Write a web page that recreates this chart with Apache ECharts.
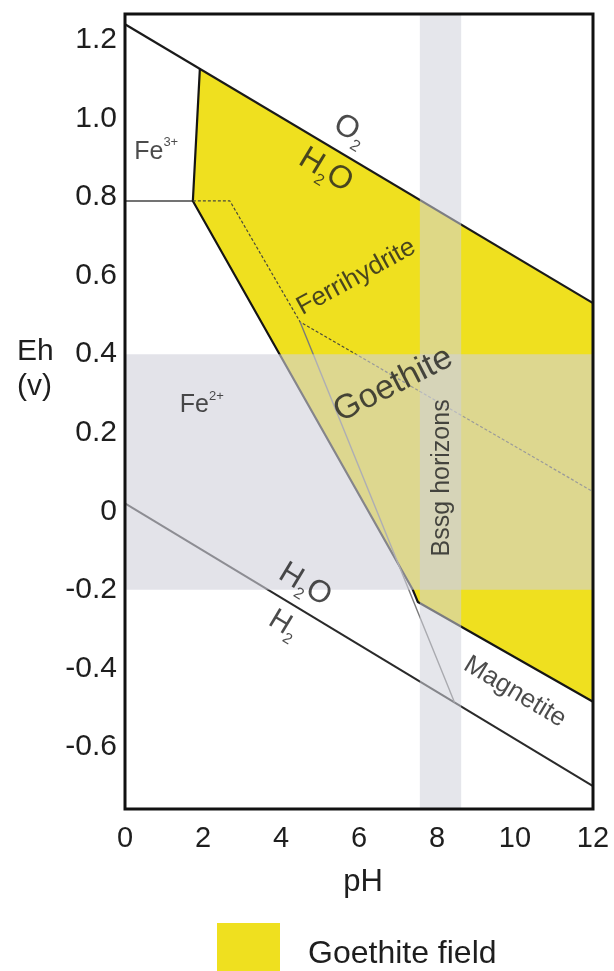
<!DOCTYPE html>
<html>
<head>
<meta charset="utf-8">
<script src="https://cdn.jsdelivr.net/npm/echarts@6/dist/echarts.min.js"></script>
<style>
  html, body { margin: 0; padding: 0; background: #fff; }
  #chart { width: 614px; height: 971px; }
</style>
</head>
<body>
<div id="chart"></div>
<script>
// Axis ticks
const phTicks = [0, 2, 4, 6, 8, 10, 12];
const ehTicks = [-0.6, -0.4, -0.2, 0, 0.2, 0.4, 0.6, 0.8, 1.0, 1.2];

// Water stability limits
const o2WaterPH = [0, 12];
const o2WaterEh = [1.24, 0.53];
const h2WaterPH = [0, 12];
const h2WaterEh = [0.02, -0.70];

// Fe3+ / Fe2+ boundary
const fe3Fe2PH = [0, 1.74];
const fe3Fe2Eh = [0.79, 0.79];

// Goethite stability boundary (left and lower edge)
const goethiteEdgePH = [1.92, 1.74, 7.38, 7.51, 12];
const goethiteEdgeEh = [1.127, 0.79, -0.20, -0.231, -0.485];

// Ferrihydrite boundary (dashed)
const ferrihydritePH = [1.74, 2.69, 4.49, 12];
const ferrihydriteEh = [0.79, 0.79, 0.482, 0.05];

// Fe2+ / magnetite boundary
const magnetitePH = [4.49, 8.45];
const magnetiteEh = [0.482, -0.487];

// Goethite field polygon
const goethiteFieldPH = [1.92, 12, 12, 7.51, 7.38, 1.74];
const goethiteFieldEh = [1.127, 0.53, -0.485, -0.231, -0.20, 0.79];

// Shaded ranges: Eh range and pH range of the Bssg horizons
const ehBand = [-0.2, 0.4];
const phBand = [7.56, 8.62];

// Text annotations
const noteTexts = ['Fe{sup|3+}', 'Fe{sup|2+}', 'O{sub|2}', 'H{sub|2}O', 'Ferrihydrite', 'Goethite',
                   'Bssg horizons', 'H{sub|2}O', 'H{sub|2}', 'Magnetite'];
const notePH = [0.80, 1.97, 5.78, 5.15, 5.93, 6.88, 8.13, 4.62, 4.07, 10.0];
const noteEh = [0.915, 0.27, 0.97, 0.868, 0.596, 0.322, 0.085, -0.187, -0.289, -0.46];

const YELLOW = '#EFE01F';
const INK = '#1e1e1e';
const FONT = '"Liberation Sans", Arial, sans-serif';

function pairs(xs, ys) { return xs.map((x, i) => [x, ys[i]]); }

function lineSeries(xs, ys, color, width, dash) {
  return {
    type: 'line', data: pairs(xs, ys), symbol: 'none', z: 3, silent: true,
    lineStyle: { color: color, width: width, type: dash || 'solid' },
    animation: false
  };
}

function rectSeries(render) {
  return {
    type: 'custom', z: 5, silent: true, animation: false,
    data: [[0, 0]],
    renderItem: render
  };
}

const noteStyles = [
  { fontSize: 25, rotate: 0 },
  { fontSize: 25, rotate: 0 },
  { fontSize: 31, rotate: -31 },
  { fontSize: 32, rotate: -31 },
  { fontSize: 26, rotate: 29 },
  { fontSize: 34, rotate: 27 },
  { fontSize: 25, rotate: 90 },
  { fontSize: 31, rotate: -31 },
  { fontSize: 29, rotate: -31 },
  { fontSize: 26, rotate: -31 }
];

function richFor(size) {
  const sub = Math.round(size * 0.5);
  return {
    sub: { fontSize: sub, lineHeight: sub, verticalAlign: 'bottom', color: INK, fontFamily: FONT },
    sup: { fontSize: sub, lineHeight: sub, verticalAlign: 'top', color: INK, fontFamily: FONT }
  };
}

const noteData = noteTexts.map((t, i) => ({
  value: [notePH[i], noteEh[i]],
  label: {
    formatter: t,
    color: INK,
    fontSize: noteStyles[i].fontSize,
    lineHeight: Math.round(noteStyles[i].fontSize * 1.25),
    rotate: noteStyles[i].rotate,
    rich: richFor(noteStyles[i].fontSize)
  }
}));

const chart = echarts.init(document.getElementById('chart'), null, { renderer: 'canvas' });

chart.setOption({
  animation: false,
  backgroundColor: '#fff',
  grid: {
    left: 125, right: 21, top: 14, bottom: 162,
    show: true, z: 10, borderColor: '#111', borderWidth: 3, backgroundColor: 'transparent'
  },
  xAxis: {
    type: 'value', min: 0, max: 12, interval: 2,
    axisLine: { show: false }, axisTick: { show: false }, splitLine: { show: false },
    axisLabel: { fontSize: 29, color: INK, margin: 15, fontFamily: FONT, customValues: phTicks },
    name: 'pH', nameLocation: 'middle', nameGap: 58,
    nameTextStyle: { fontSize: 31, color: INK, fontFamily: FONT, padding: [0, 0, 0, 8] }
  },
  yAxis: {
    type: 'value', min: -0.758, max: 1.266,
    axisLine: { show: false }, axisTick: { show: false }, splitLine: { show: false },
    axisLabel: {
      fontSize: 30, color: INK, margin: 8, fontFamily: FONT,
      customValues: ehTicks,
      formatter: v => (Math.abs(v) < 1e-9 ? '0' : v.toFixed(1))
    }
  },
  legend: {
    data: ['Goethite field'],
    left: 217, top: 923, padding: 0,
    itemWidth: 63, itemHeight: 63, icon: 'rect',
    textStyle: { fontSize: 32, color: INK, fontFamily: FONT, padding: [0, 0, 0, 23] }
  },
  graphic: [{
    type: 'text', left: 17, top: 334,
    style: { text: 'Eh\n(v)', font: '30px ' + FONT, fill: INK, align: 'center', lineHeight: 35 }
  }],
  series: [
    {
      name: 'Goethite field', type: 'custom', z: 1, silent: true, animation: false,
      itemStyle: { color: YELLOW },
      data: pairs(goethiteFieldPH, goethiteFieldEh),
      renderItem: (params, api) => {
        if (params.dataIndex !== 0) return null;
        return {
          type: 'polygon',
          shape: { points: goethiteFieldPH.map((p, i) => api.coord([p, goethiteFieldEh[i]])) },
          style: { fill: YELLOW }
        };
      }
    },
    lineSeries(o2WaterPH, o2WaterEh, '#1a1a1a', 2.2),
    lineSeries(h2WaterPH, h2WaterEh, '#2a2a2a', 2),
    lineSeries(fe3Fe2PH, fe3Fe2Eh, '#444', 1.6),
    lineSeries(goethiteEdgePH, goethiteEdgeEh, '#151515', 2.2),
    lineSeries(ferrihydritePH, ferrihydriteEh, '#4a4a3a', 1.2, [3, 2]),
    lineSeries(magnetitePH, magnetiteEh, '#7a7a7a', 1.4),
    rectSeries((params, api) => {
      const a = api.coord([0, ehBand[1]]);
      const b = api.coord([12, ehBand[0]]);
      return { type: 'rect', shape: { x: a[0], y: a[1], width: b[0] - a[0], height: b[1] - a[1] },
               style: { fill: 'rgba(208,209,218,0.6)' } };
    }),
    rectSeries((params, api) => {
      const a = api.coord([phBand[0], 1.266]);
      const b = api.coord([phBand[1], -0.758]);
      return { type: 'rect', shape: { x: a[0], y: a[1], width: b[0] - a[0], height: b[1] - a[1] },
               style: { fill: 'rgba(208,209,218,0.55)' } };
    }),
    {
      type: 'scatter', z: 8, silent: true, animation: false,
      symbolSize: 0, itemStyle: { color: 'transparent' },
      label: {
        show: true, position: 'inside', align: 'center', verticalAlign: 'middle',
        color: INK, fontFamily: FONT
      },
      data: noteData
    }
  ]
});
</script>
</body>
</html>
